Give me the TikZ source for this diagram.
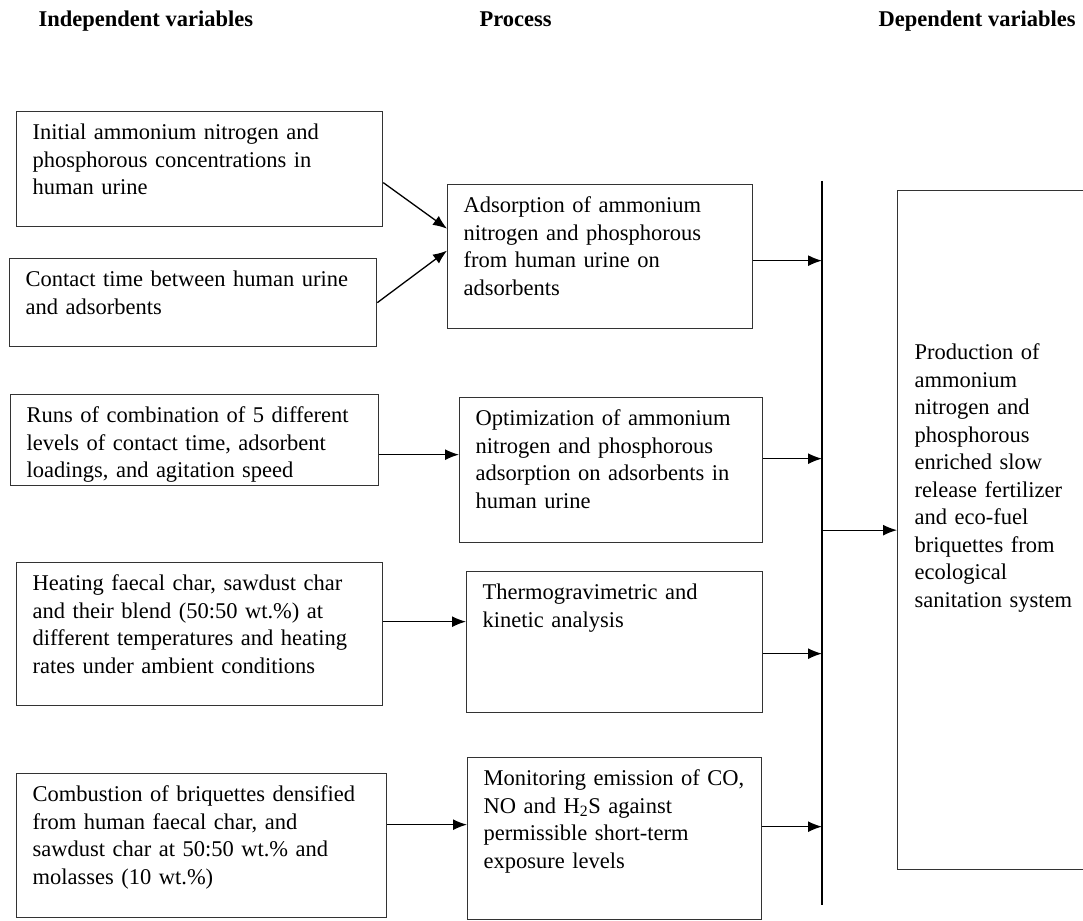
\documentclass[tikz,border=0pt]{standalone}
\usepackage{fontspec}
\setmainfont{Liberation Serif}
\usetikzlibrary{arrows.meta}

\tikzset{
  varbox/.style={draw=black!80, line width=1.3pt, anchor=north west, align=left,
    inner xsep=16pt, inner ysep=0pt, text height=28pt},
  head/.style={anchor=base west, inner sep=0pt, font=\fontsize{22.5}{27.5}\selectfont\bfseries},
}

\begin{document}
\begin{tikzpicture}[x=1pt, y=-1pt, line width=1.3pt, >={Latex[length=14pt,width=11pt]},
  font=\fontsize{22.5}{27.5}\selectfont]
\clip (0,0) rectangle (1083,920);

\node (hind) [head] at (38,27) {Independent variables};
\node (hproc) [head] at (479,27) {Process};
\node (hdep) [head] at (878,27) {Dependent variables};

\node (conc) [varbox, text width=334pt, text depth=87pt] at (16,111) {Initial ammonium nitrogen and\\ phosphorous concentrations in\\ human urine};
\node (contact) [varbox, text width=335pt, text depth=60pt] at (9,258) {Contact time between human urine\\ and adsorbents};
\node (runs) [varbox, text width=336pt, text depth=63pt] at (10,394) {Runs of combination of 5 different\\ levels of contact time, adsorbent\\ loadings, and agitation speed};
\node (heat) [varbox, text width=334pt, text depth=115pt] at (16,562) {Heating faecal char, sawdust char\\ and their blend (50:50 wt.\%) at\\ different temperatures and heating\\ rates under ambient conditions};
\node (comb) [varbox, text width=338pt, text depth=116pt] at (16,773) {Combustion of briquettes densified\\ from human faecal char, and\\ sawdust char at 50:50 wt.\% and\\ molasses (10 wt.\%)};

\node (adsorb) [varbox, text width=273pt, text depth=116pt] at (447,184) {Adsorption of ammonium\\ nitrogen and phosphorous\\ from human urine on\\ adsorbents};
\node (optim) [varbox, text width=271pt, text depth=117pt] at (459,397) {Optimization of ammonium\\ nitrogen and phosphorous\\ adsorption on adsorbents in\\ human urine};
\node (thermo) [varbox, text width=264pt, text depth=113pt] at (466,571) {Thermogravimetric and\\ kinetic analysis};
\node (monit) [varbox, text width=262pt, text depth=134pt] at (467,757) {Monitoring emission of CO,\\ NO and H\textsubscript{2}S against\\ permissible short-term\\ exposure levels};

\node (prod) [varbox, inner xsep=17pt, text width=220pt, text height=169pt, text depth=510pt] at (897,190) {Production of\\ ammonium\\ nitrogen and\\ phosphorous\\ enriched slow\\ release fertilizer\\ and eco-fuel\\ briquettes from\\ ecological\\ sanitation system};

% collecting line
\coordinate (bustop) at (822,181);
\coordinate (busbot) at (822,905);
\draw (bustop) -- (busbot);

\draw [->] ([yshift=-13.5pt]conc.east) -- ([yshift=28pt]adsorb.west);
\draw [->] (contact.east) -- ([yshift=6pt]adsorb.west);
\draw [->] ([yshift=-14.5pt]runs.east) -- ([yshift=15.5pt]optim.west);
\draw [->] ([yshift=12.5pt]heat.east) -- ([yshift=20.5pt]thermo.west);
\draw [->] ([yshift=21pt]comb.east) -- ([yshift=14pt]monit.west);

\draw [->] ([yshift=-4pt]adsorb.east) -- ([yshift=-4pt]adsorb.east -| bustop);
\draw [->] ([yshift=11.5pt]optim.east) -- ([yshift=11.5pt]optim.east -| bustop);
\draw [->] ([yshift=-11.5pt]thermo.east) -- ([yshift=-11.5pt]thermo.east -| bustop);
\draw [->] ([yshift=12pt]monit.east) -- ([yshift=12pt]monit.east -| bustop);
\draw [->] (prod.west -| bustop) -- (prod.west);
\end{tikzpicture}
\end{document}
